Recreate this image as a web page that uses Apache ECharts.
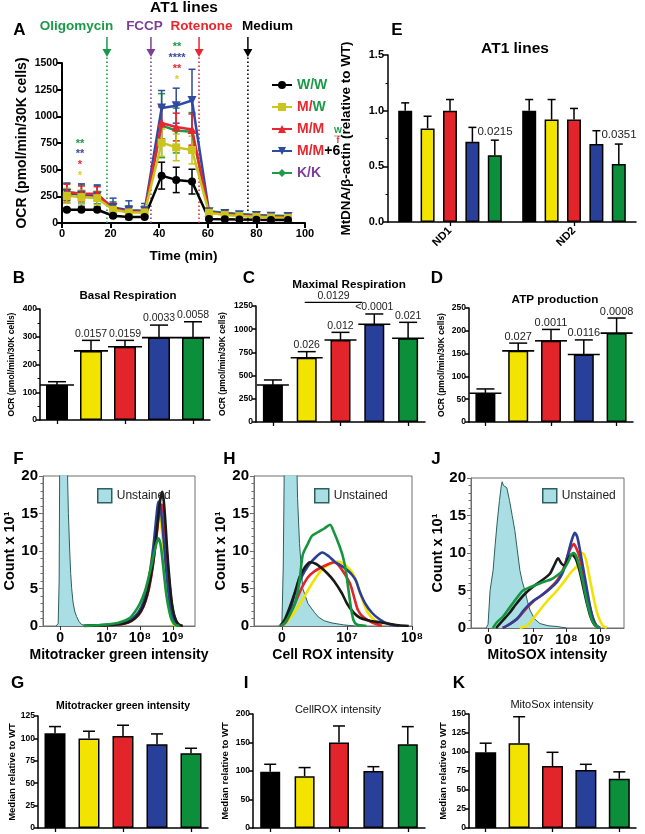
<!DOCTYPE html>
<html><head><meta charset="utf-8">
<script src="https://cdn.jsdelivr.net/npm/echarts@6/dist/echarts.min.js"></script>
<style>html,body{margin:0;padding:0;background:#fff}#c{width:645px;height:834px}</style>
</head><body><div id="c"></div>
<script>
// ---------------- DATA ----------------
const genotypes = ['W/W','M/W','M/M','M/M+6','K/K'];
// Panel A: Seahorse OCR time course
const timeMin = [2, 8, 14.5, 21, 27.5, 34, 41, 47, 53.5, 60.5, 67, 73, 80, 86, 93];
const ocrWW   = [124,124,124,68,56,56,444,404,388,37,35,33,30,28,28];
const ocrWWErr= [15,15,15,10,9,9,126,119,116,8,7,7,6,6,6];
const ocrMW   = [255,243,233,124,99,99,753,709,684,95,75,65,58,52,48];
const ocrMWErr= [70,65,65,55,45,45,128,125,130,18,15,14,13,12,12];
const ocrMM   = [288,277,275,132,108,104,938,900,876,100,82,72,64,58,54];
const ocrMMErr= [75,70,65,55,45,45,150,130,146,20,16,14,13,12,12];
const ocrMM6  = [280,262,255,145,120,115,1078,1100,1149,105,88,78,70,64,60];
const ocrMM6Err=[93,105,102,88,88,68,164,164,292,20,16,14,13,12,12];
const ocrKK   = [290,272,265,138,112,108,913,867,855,110,95,85,76,70,66];
const ocrKKErr= [83,85,85,60,50,50,300,210,180,20,16,14,13,12,12];
const injTime = [18.5, 36.6, 56.4, 76.5];
const injLabels = ['Oligomycin','FCCP','Rotenone','Medium'];
// Panel E: MtDNA
const ndGenes = ['ND1','ND2'];
const mtWW = [1.0, 1.0],   mtWWErr = [0.07, 0.10];
const mtMW = [0.84, 0.92], mtMWErr = [0.11, 0.18];
const mtMM = [1.0, 0.92],  mtMMErr = [0.10, 0.10];
const mtMM6 = [0.72, 0.70], mtMM6Err = [0.13, 0.12];
const mtKK = [0.60, 0.52], mtKKErr = [0.135, 0.18];
const mtMM6P = ['0.0215','0.0351'];
// Panels B, C, D
const basal = [126,249,264,297,297], basalErr = [12,38,23,45,57];
const basalP = ['','0.0157','0.0159','0.0033','0.0058'];
const maxResp = [399,693,884,1053,902], maxRespErr = [54,65,82,111,172];
const maxRespP = ['','0.026','0.012','<0.0001','0.021'];
const maxRespBracket = [1, 3, 1290]; const maxRespBracketP = '0.0129';
const atpProd = [63,156,178,148,195], atpProdErr = [9.5,17,25,32,33];
const atpProdP = ['','0.027','0.0011','0.0116','0.0008'];
// Panels G, I, K
const mitoGreen = [105.7,100,102.7,93.4,83.4], mitoGreenErr = [7.5,8,12,11.6,5.6];
const cellRox = [98.8,91,150,100,146.8], cellRoxErr = [13,15,29,7.6,31];
const mitoSox = [99.6,111.4,81.6,76.3,64.9], mitoSoxErr = [12,35,18,7.5,9];
// Histograms (x in biexponential display units; 10^7 = 7, 10^8 = 8, 10^9 = 9)
const fTicks = [5.58,7,8,9], hTicks = [6,7,8], jTicks = [5.66,7,8,9];
const fTickText = ['0','10⁷','10⁸','10⁹'], hTickText = ['0','10⁷','10⁸'], jTickText = ['0','10⁷','10⁸','10⁹'];
const fUnst = [[5.45,0],[5.52,0.3],[5.55,6],[5.57,25],[5.78,25],[5.83,15],[5.87,10],[5.9,7],[5.93,5],[5.97,3.2],[6.02,2],[6.08,1.25],[6.15,0.6],[6.23,0.2],[6.4,0]];
const fWW = [[6.3,0],[7.0,0.1],[7.5,0.3],[7.75,0.7],[7.95,1.5],[8.1,2.6],[8.22,4.2],[8.32,6.3],[8.4,8.5],[8.47,11],[8.53,13.5],[8.59,16],[8.64,17.4],[8.68,17.9],[8.72,16.8],[8.77,14],[8.82,10.5],[8.87,7.5],[8.92,5],[8.97,3],[9.03,1.6],[9.1,0.7],[9.18,0.2],[9.3,0]];
const fMW = [[6.3,0],[7.0,0.15],[7.5,0.4],[7.75,0.9],[7.95,1.8],[8.1,3.2],[8.22,5.2],[8.32,7.8],[8.4,10.2],[8.47,12.6],[8.53,14.5],[8.58,15.1],[8.63,14.2],[8.68,12],[8.73,9],[8.79,6],[8.85,3.5],[8.92,1.6],[8.98,0.6],[9.05,0.1],[9.15,0]];
const fMM = [[6.3,0],[7.0,0.1],[7.5,0.3],[7.75,0.7],[7.95,1.4],[8.1,2.5],[8.22,4],[8.32,6],[8.4,8.3],[8.48,11],[8.55,13.8],[8.61,15.8],[8.66,16.2],[8.71,15.2],[8.76,12.8],[8.82,9.5],[8.88,6.3],[8.94,3.8],[9.0,2],[9.07,0.9],[9.15,0.3],[9.25,0]];
const fMM6 = [[6.3,0],[7.0,0.15],[7.5,0.4],[7.75,0.9],[7.95,1.8],[8.1,3.1],[8.22,5],[8.32,7.6],[8.4,10.3],[8.46,12.8],[8.51,15],[8.56,16.6],[8.61,16.2],[8.66,14.5],[8.72,11.5],[8.78,8.3],[8.84,5.5],[8.9,3.2],[8.97,1.6],[9.04,0.7],[9.12,0.2],[9.2,0]];
const fKK = [[6.3,0],[7.0,0.2],[7.4,0.5],[7.7,1.1],[7.85,1.9],[8.0,3],[8.15,4.6],[8.27,6.6],[8.36,8.3],[8.43,9.8],[8.5,11],[8.56,11.7],[8.62,11],[8.68,9],[8.74,6.5],[8.8,4.2],[8.87,2.4],[8.94,1.1],[9.02,0.4],[9.1,0.1],[9.2,0]];
const hUnst = [[5.95,0],[6.0,0.5],[6.02,8],[6.04,25],[6.22,25],[6.24,17],[6.27,11],[6.32,5],[6.4,3],[6.5,1.8],[6.56,1.2],[6.65,0.7],[6.77,0.4],[6.95,0.15],[7.12,0]];
const hWW = [[5.98,0],[6.05,1],[6.12,2.5],[6.2,4.5],[6.27,6.5],[6.35,7.8],[6.43,8.5],[6.52,8.3],[6.6,7.8],[6.7,7],[6.8,6],[6.92,4.4],[7.0,3],[7.1,1.8],[7.2,1.1],[7.35,0.7],[7.5,0.5],[7.65,0.3],[7.8,0.1],[7.95,0]];
const hMW = [[6.0,0],[6.1,0.8],[6.18,1.7],[6.25,2.6],[6.35,4],[6.45,5.5],[6.55,6.8],[6.65,7.8],[6.75,8.3],[6.85,8.6],[6.95,8.3],[7.05,7.5],[7.12,6.5],[7.18,5],[7.25,3.2],[7.32,1.8],[7.42,0.8],[7.54,0]];
const hMM = [[6.0,0],[6.06,0.5],[6.12,1.5],[6.2,3],[6.3,5],[6.4,6.5],[6.5,7.3],[6.6,7.8],[6.7,8.2],[6.8,8.5],[6.88,8],[6.96,7],[7.05,5.6],[7.12,3.5],[7.17,2.1],[7.25,1.2],[7.38,0.5],[7.54,0]];
const hMM6 = [[5.98,0],[6.04,0.5],[6.08,1.2],[6.14,2.5],[6.2,4.4],[6.3,6.5],[6.4,8],[6.5,9],[6.62,9.8],[6.72,9.3],[6.82,8.5],[6.92,8],[7.0,7.5],[7.08,6.8],[7.14,6],[7.2,4.5],[7.28,3],[7.38,1.8],[7.5,0.9],[7.63,0.3],[7.8,0]];
const hKK = [[5.98,0],[6.05,0.5],[6.12,1.5],[6.2,3],[6.27,6],[6.32,9.5],[6.4,11],[6.46,12],[6.55,12.5],[6.65,13],[6.74,13.5],[6.8,12.5],[6.87,11],[6.93,9.5],[6.98,7.5],[7.02,5],[7.06,2.5],[7.1,0.8],[7.15,0.2],[7.3,0]];
const jUnst = [[5.6,0],[5.66,0.5],[5.72,5],[5.81,7.7],[5.87,11],[5.93,14],[6.0,17],[6.05,18.8],[6.08,19.5],[6.12,19],[6.17,19.2],[6.22,18.7],[6.3,17],[6.38,15],[6.46,13],[6.53,10.5],[6.61,7.7],[6.68,6.2],[6.76,5],[6.84,3.5],[6.91,2.4],[7.05,1.2],[7.21,0.6],[7.45,0.3],[7.72,0.2],[8.0,0]];
const jWW = [[5.9,0],[6.1,1],[6.3,2],[6.5,3.2],[6.75,4.5],[7.0,5.5],[7.25,6.3],[7.5,7.2],[7.65,8.5],[7.75,9.3],[7.85,8.6],[7.95,8.3],[8.05,9.2],[8.15,9.8],[8.22,9.6],[8.3,9],[8.4,7.5],[8.5,5.5],[8.6,3.5],[8.7,1.8],[8.8,0.7],[8.9,0.2],[9.0,0]];
const jMW = [[6.6,0],[6.82,0.3],[7.0,1.2],[7.21,2.4],[7.45,3.7],[7.72,5],[7.95,6.3],[8.15,7.5],[8.31,8.2],[8.4,9.2],[8.46,10],[8.53,9.8],[8.61,8.6],[8.7,6.5],[8.8,4.3],[8.9,2.3],[9.0,1],[9.09,0.3],[9.2,0]];
const jMM = [[6.1,0],[6.3,0.5],[6.55,1.3],[6.8,2.6],[7.05,3.7],[7.3,4.5],[7.55,5.5],[7.75,6.5],[7.92,8],[8.05,9.8],[8.15,10.8],[8.22,11.2],[8.3,10.6],[8.4,9.3],[8.5,7.3],[8.6,5],[8.7,2.8],[8.8,1.2],[8.9,0.3],[9.0,0]];
const jMM6 = [[6.1,0],[6.3,0.5],[6.52,1.2],[6.75,2.5],[7.0,3.6],[7.21,4.2],[7.5,5.2],[7.75,6.3],[7.9,7.5],[8.0,9],[8.1,10.8],[8.18,12],[8.25,12.7],[8.32,12.2],[8.4,10.5],[8.5,8],[8.6,5.5],[8.7,3],[8.8,1.2],[8.88,0.4],[9.0,0]];
const jKK = [[5.8,0],[5.93,0.8],[6.1,1.5],[6.25,2.4],[6.4,3.3],[6.55,4.2],[6.7,5],[6.9,5.4],[7.12,5.8],[7.35,6.2],[7.55,6.5],[7.72,7],[7.9,7.7],[8.05,8.8],[8.15,9.8],[8.22,10],[8.3,9.5],[8.4,8],[8.5,6],[8.6,3.8],[8.7,2],[8.78,0.9],[8.88,0.3],[9.0,0]];

// ---------------- STYLE ----------------
const FONT = '"Liberation Sans", Arial, Helvetica, sans-serif';
const barColors = ['#000000','#f3e400','#e2242b','#29409a','#0c8f3b'];
const lineColors = ['#000000','#c9c41e','#e8262f','#2f4aa0','#1f9a4a'];
const histColors = ['#1a1a1a','#f2e200','#e3242b','#2a3f95','#13963d'];
const injColors = ['#1a9a48','#7b3f98','#e8262f','#000000'];
const plainNum = v => String(v);

function vAxis(gi, min, max, interval, o) {
  o = o || {};
  const ax = {type:'value', gridIndex:gi, min:min, max:max, interval:interval,
    axisLine:{show:true, lineStyle:{color:o.lc||'#000', width:o.lw||1.5}},
    axisTick:{show:true, length:o.tl||4, lineStyle:{color:o.lc||'#000', width:o.lw||1.5}},
    minorTick: o.minor ? {show:true, splitNumber:o.minor, length:2.5, lineStyle:{color:o.lc||'#000', width:1}} : {show:false},
    splitLine:{show:false},
    axisLabel:{fontSize:o.fs||8.5, fontWeight:'bold', color:'#000', margin:o.margin||3, fontFamily:FONT, formatter:o.fmt||plainNum},
    name:o.name||'', nameLocation:'middle', nameGap:o.gap||25,
    nameTextStyle:{fontSize:o.nfs||9, fontWeight:'bold', color:'#000', fontFamily:FONT}
  };
  return ax;
}
function cAxis(gi, cats, o) {
  o = o || {};
  return {type:'category', gridIndex:gi, data:cats,
    axisLine:{show:true, lineStyle:{color:'#000', width:1.5}},
    axisTick:{show:true, alignWithLabel:true, length:4, lineStyle:{color:'#000', width:1.3}},
    axisLabel: o.label ? o.label : {show:false},
    splitLine:{show:false}};
}
function histX(gi, min, max, ticks, texts, name, gap) {
  return {type:'value', gridIndex:gi, min:min, max:max,
    axisLine:{show:true, lineStyle:{color:'#6e6e6e', width:1}},
    axisTick:{show:true, length:4, customValues:ticks, lineStyle:{color:'#333', width:1}},
    splitLine:{show:false},
    axisLabel:{customValues:ticks, fontSize:14, fontWeight:'bold', color:'#000', margin:5, fontFamily:FONT,
      formatter:function(v){ for (let k=0;k<ticks.length;k++){ if (Math.abs(ticks[k]-v)<1e-6) return texts[k]; } return ''; }},
    name:name, nameLocation:'middle', nameGap:gap,
    nameTextStyle:{fontSize:14, fontWeight:'bold', color:'#000', fontFamily:FONT}};
}
function barSeries(gi, name, vals, w) {
  return {type:'bar', name:name, xAxisIndex:gi, yAxisIndex:gi, barWidth:w, z:2, silent:true,
    itemStyle:{borderColor:'#000', borderWidth:1.5},
    data: vals.map((v,i)=>({value:v, itemStyle:{color:barColors[i]}}))};
}
function errSeries(o) {
  return {type:'custom', xAxisIndex:o.gi, yAxisIndex:o.gi, z:o.z||5, silent:true,
    data: o.means.map((m,i)=>[o.xs ? o.xs[i] : i, m, o.errs[i]]),
    renderItem: function(params, api) {
      const i = params.dataIndex;
      const xv = api.value(0), m = api.value(1), e = api.value(2);
      const col = Array.isArray(o.colors) ? o.colors[i] : o.colors;
      const p = api.coord([xv, m]), t = api.coord([xv, m + e]);
      const cx = p[0] + (o.offset || 0);
      const st = {stroke:col, lineWidth:o.lw || 1.5};
      const ch = [
        {type:'line', shape:{x1:cx, y1:p[1], x2:cx, y2:t[1]}, style:st},
        {type:'line', shape:{x1:cx - o.capW/2, y1:t[1], x2:cx + o.capW/2, y2:t[1]}, style:st}
      ];
      if (o.both) {
        const b = api.coord([xv, m - e]);
        ch.push({type:'line', shape:{x1:cx, y1:p[1], x2:cx, y2:b[1]}, style:st});
        ch.push({type:'line', shape:{x1:cx - o.capW/2, y1:b[1], x2:cx + o.capW/2, y2:b[1]}, style:st});
      }
      if (o.meanW) ch.push({type:'line', shape:{x1:cx - o.meanW/2, y1:p[1], x2:cx + o.meanW/2, y2:p[1]}, style:{stroke:'#000', lineWidth:1.6}});
      const lab = o.labels && o.labels[i];
      if (lab) {
        if (o.labelMode === 'right') {
          ch.push({type:'text', style:{text:lab, x:cx + o.capW/2 + 1, y:t[1] + 4, align:'left', verticalAlign:'middle', textAlign:'left', textVerticalAlign:'middle', font:o.labelFont, fill:'#222'}});
        } else {
          ch.push({type:'text', style:{text:lab, x:cx, y:t[1] - 1, align:'center', verticalAlign:'bottom', textAlign:'center', textVerticalAlign:'bottom', font:o.labelFont, fill:'#222'}});
        }
      }
      return {type:'group', children:ch};
    }};
}
function histLine(gi, name, data, color) {
  return {type:'line', name:name, xAxisIndex:gi, yAxisIndex:gi, data:data, symbol:'none', smooth:0.25,
    silent:true, lineStyle:{color:color, width:2.6}, itemStyle:{color:color}, z:3};
}
function histUnst(gi, name, data) {
  return {type:'line', name:name, xAxisIndex:gi, yAxisIndex:gi, data:data, symbol:'none', silent:true,
    lineStyle:{color:'#2e5e5e', width:1}, itemStyle:{color:'#a9dfe4', borderColor:'#2e5e5e'},
    areaStyle:{color:'#a9dfe4', opacity:1}, z:2};
}

// ---------------- GRIDS / AXES ----------------
const grids = [
  {left:62, top:63, width:243, height:160},   // 0 A
  {left:388, top:55, width:248, height:167},  // 1 E
  {left:40, top:309, width:170, height:111},  // 2 B
  {left:256, top:306, width:169, height:116}, // 3 C
  {left:469, top:308, width:164, height:114}, // 4 D
  {left:43, top:476, width:152, height:150, show:true, borderColor:'#6e6e6e', borderWidth:1},  // 5 F
  {left:254, top:476, width:158, height:150, show:true, borderColor:'#6e6e6e', borderWidth:1}, // 6 H
  {left:471, top:478, width:153, height:150, show:true, borderColor:'#6e6e6e', borderWidth:1}, // 7 J
  {left:38, top:716, width:170, height:112},  // 8 G
  {left:253, top:714, width:172, height:114}, // 9 I
  {left:469, top:714, width:167, height:114}  // 10 K
];
const xAxes = [
  {type:'value', gridIndex:0, min:0, max:100, interval:20,
    axisLine:{show:true, lineStyle:{color:'#000', width:2}}, axisTick:{show:true, length:5, lineStyle:{color:'#000', width:2}},
    splitLine:{show:false}, axisLabel:{fontSize:11, fontWeight:'bold', color:'#000', margin:5, fontFamily:FONT, formatter:plainNum},
    name:'Time (min)', nameLocation:'middle', nameGap:26, nameTextStyle:{fontSize:13.5, fontWeight:'bold', color:'#000', fontFamily:FONT}},
  cAxis(1, ndGenes, {label:{show:true, rotate:45, fontSize:11, fontWeight:'bold', color:'#000', margin:7, fontFamily:FONT}}),
  cAxis(2, genotypes), cAxis(3, genotypes), cAxis(4, genotypes),
  histX(5, 5.06, 9.67, fTicks, fTickText, 'Mitotracker green intensity', 22),
  histX(6, 5.57, 8.0, hTicks, hTickText, 'Cell ROX intensity', 22),
  histX(7, 5.15, 9.72, jTicks, jTickText, 'MitoSOX intensity', 20),
  cAxis(8, genotypes), cAxis(9, genotypes), cAxis(10, genotypes)
];
const yAxes = [
  vAxis(0, 0, 1500, 250, {lw:2, tl:5, fs:10.5, margin:4, name:'OCR (pmol/min/30K cells)', nfs:14, gap:33}),
  vAxis(1, 0, 1.5, 0.5, {lw:1.5, tl:5, fs:11, margin:4, minor:2, name:'MtDNA/β-actin (relative to WT)', nfs:13.5, gap:35, fmt:v=>v.toFixed(1)}),
  vAxis(2, 0, 400, 100, {minor:2, name:'OCR (pmol/min/30K cells)', nfs:8.5, gap:24}),
  vAxis(3, 0, 1250, 250, {name:'OCR (pmol/min/30K cells)', nfs:8.5, gap:29}),
  vAxis(4, 0, 250, 50, {name:'OCR (pmol/min/30K cells)', nfs:8.5, gap:23}),
  vAxis(5, 0, 20, 5, {lc:'#6e6e6e', lw:1, fs:15, margin:5, minor:5, name:'Count x 10¹', nfs:14.5, gap:21}),
  vAxis(6, 0, 20, 5, {lc:'#6e6e6e', lw:1, fs:15, margin:5, minor:5, name:'Count x 10¹', nfs:14.5, gap:20}),
  vAxis(7, 0, 20, 5, {lc:'#6e6e6e', lw:1, fs:15, margin:5, minor:5, name:'Count x 10¹', nfs:14.5, gap:26}),
  vAxis(8, 0, 125, 25, {name:'Median relative to WT', nfs:9.5, gap:20}),
  vAxis(9, 0, 200, 50, {name:'Median relative to WT', nfs:9.5, gap:23}),
  vAxis(10, 0, 150, 25, {name:'Median relative to WT', nfs:9.5, gap:21})
];

// ---------------- SERIES ----------------
const series = [];
// A: injection markers
series.push({type:'custom', xAxisIndex:0, yAxisIndex:0, z:1, silent:true,
  data: injTime.map(t=>[t, 0]),
  renderItem: function(params, api) {
    const col = injColors[params.dataIndex];
    const b = api.coord([api.value(0), 0]);
    const top = api.coord([api.value(0), 1500]);
    const x = b[0], yEnd = top[1] - 6;
    return {type:'group', children:[
      {type:'line', shape:{x1:x, y1:b[1], x2:x, y2:yEnd}, style:{stroke:col, lineWidth:1.6, lineDash:[1.5,2.5]}},
      {type:'line', shape:{x1:x, y1:yEnd - 20, x2:x, y2:yEnd - 7}, style:{stroke:col, lineWidth:1.5}},
      {type:'polygon', shape:{points:[[x-4.5, yEnd-8],[x+4.5, yEnd-8],[x, yEnd]]}, style:{fill:col}}
    ]};
  }});
const aMeans = [ocrWW, ocrMW, ocrMM, ocrMM6, ocrKK];
const aErrs = [ocrWWErr, ocrMWErr, ocrMMErr, ocrMM6Err, ocrKKErr];
const aSymbols = ['circle','rect','triangle','triangle','diamond'];
const aSizes = [8, 8, 9, 9, 7];
const aRot = [0, 0, 0, 180, 0];
[4,3,2,1,0].forEach(k => {
  series.push(errSeries({gi:0, xs:timeMin, means:aMeans[k], errs:aErrs[k], colors:lineColors[k], capW:7, both:true, lw:1.5, z:3}));
});
[4,3,2,1,0].forEach(k => {
  series.push({type:'line', name:genotypes[k], xAxisIndex:0, yAxisIndex:0,
    data: timeMin.map((t,i)=>[t, aMeans[k][i]]), symbol:aSymbols[k], symbolSize:aSizes[k], symbolRotate:aRot[k],
    itemStyle:{color:lineColors[k]}, lineStyle:{color:lineColors[k], width:2.5}, z:4, silent:true});
});
// E
const eMeans = [mtWW, mtMW, mtMM, mtMM6, mtKK];
const eErrs = [mtWWErr, mtMWErr, mtMMErr, mtMM6Err, mtKKErr];
const eBarW = 14, eGap = 8.4;
eMeans.forEach((vals, k) => {
  series.push({type:'bar', name:'E ' + genotypes[k], xAxisIndex:1, yAxisIndex:1, barWidth:eBarW, barGap:'60%', z:2, silent:true,
    itemStyle:{color:barColors[k], borderColor:'#000', borderWidth:1.5}, data:vals});
});
eMeans.forEach((vals, k) => {
  series.push(errSeries({gi:1, means:vals, errs:eErrs[k], colors:'#000', capW:8, offset:(k-2)*(eBarW+eGap), lw:1.5,
    labels: k===3 ? mtMM6P : null, labelMode:'right', labelFont:'11.5px ' + FONT}));
});
// B, C, D
series.push(barSeries(2, 'Basal Respiration', basal, 22));
series.push(errSeries({gi:2, means:basal, errs:basalErr, colors:'#000', capW:18, meanW:34, labels:basalP, labelFont:'10.5px ' + FONT}));
series.push(barSeries(3, 'Maximal Respiration', maxResp, 20));
series.push(errSeries({gi:3, means:maxResp, errs:maxRespErr, colors:'#000', capW:18, meanW:32, labels:maxRespP, labelFont:'10.5px ' + FONT}));
series.push({type:'custom', xAxisIndex:3, yAxisIndex:3, z:5, silent:true, data:[maxRespBracket],
  renderItem: function(params, api) {
    const a = api.coord([api.value(0), api.value(2)]), b = api.coord([api.value(1), api.value(2)]);
    const x1 = a[0] - 2, x2 = b[0] - 12;
    return {type:'group', children:[
      {type:'line', shape:{x1:x1, y1:a[1], x2:x2, y2:a[1]}, style:{stroke:'#000', lineWidth:1.3}},
      {type:'text', style:{text:maxRespBracketP, x:(x1+x2)/2, y:a[1]-1, align:'center', verticalAlign:'bottom', textAlign:'center', textVerticalAlign:'bottom', font:'10.5px ' + FONT, fill:'#222'}}
    ]};
  }});
series.push(barSeries(4, 'ATP production', atpProd, 20));
series.push(errSeries({gi:4, means:atpProd, errs:atpProdErr, colors:'#000', capW:18, meanW:32, labels:atpProdP, labelFont:'11px ' + FONT}));
// F, H, J
const hists = [
  {gi:5, tag:'F', unst:fUnst, lines:[fWW,fMW,fMM,fMM6,fKK]},
  {gi:6, tag:'H', unst:hUnst, lines:[hWW,hMW,hMM,hMM6,hKK]},
  {gi:7, tag:'J', unst:jUnst, lines:[jWW,jMW,jMM,jMM6,jKK]}
];
hists.forEach(h => {
  series.push(histUnst(h.gi, 'Unstained ' + h.tag, h.unst));
  [1,2,3,0,4].forEach(k => series.push(histLine(h.gi, h.tag + ' ' + genotypes[k], h.lines[k], histColors[k])));
});
// G, I, K
series.push(barSeries(8, 'Mitotracker green', mitoGreen, 21));
series.push(errSeries({gi:8, means:mitoGreen, errs:mitoGreenErr, colors:'#000', capW:12}));
series.push(barSeries(9, 'CellROX', cellRox, 20));
series.push(errSeries({gi:9, means:cellRox, errs:cellRoxErr, colors:'#000', capW:12}));
series.push(barSeries(10, 'MitoSox', mitoSox, 21));
series.push(errSeries({gi:10, means:mitoSox, errs:mitoSoxErr, colors:'#000', capW:12}));

// ---------------- LEGENDS ----------------
const richBase = {fontSize:14, fontWeight:'bold', fontFamily:FONT};
const legendRich = {'W/W':'{g|W/W}', 'M/W':'{r|M/}{g|W}', 'M/M':'{r|M/M}', 'M/M+6':'{r|M/M}{k|+6}', 'K/K':'{p|K/K}'};
const unstLegend = (tag, left, top) => ({left:left, top:top, orient:'horizontal', itemWidth:14, itemHeight:14, itemGap:4, selectedMode:false,
  data:[{name:'Unstained ' + tag, icon:'rect', itemStyle:{color:'#a9dfe4', borderColor:'#2e5e5e', borderWidth:1.5}}],
  formatter:()=>'Unstained', textStyle:{fontSize:12, color:'#222', fontFamily:FONT}});
const legends = [
  {left:266, top:73, orient:'vertical', itemGap:8, itemWidth:20, itemHeight:10, selectedMode:false, data:genotypes,
    formatter:name=>legendRich[name],
    textStyle:{fontSize:14, fontWeight:'bold', fontFamily:FONT, rich:{
      g:Object.assign({color:'#1a9a48'}, richBase), r:Object.assign({color:'#e8262f'}, richBase),
      k:Object.assign({color:'#000'}, richBase), p:Object.assign({color:'#7b3f98'}, richBase)}}},
  unstLegend('F', 92, 483), unstLegend('H', 309, 483), unstLegend('J', 537, 483)
];

// ---------------- TEXT (titles, letters, annotations) ----------------
function txt(x, y, s, font, fill, align) {
  return {type:'text', x:x, y:y, silent:true, style:{text:s, font:font, fill:fill||'#000', align:align||'center', verticalAlign:'middle', textAlign:align||'center', textVerticalAlign:'middle'}};
}
const L = 'bold 17px ' + FONT;
const graphic = [
  txt(19.5, 30, 'A', L), txt(397, 30, 'E', L), txt(19, 278, 'B', L), txt(249, 278, 'C', L), txt(437, 278, 'D', L),
  txt(18.5, 459, 'F', L), txt(229.5, 459, 'H', L), txt(436, 459, 'J', L),
  txt(17.5, 683, 'G', L), txt(246, 683, 'I', L), txt(459, 683, 'K', L),
  txt(184, 8, 'AT1 lines', 'bold 15.5px ' + FONT),
  txt(76.5, 26.5, injLabels[0], 'bold 13.5px ' + FONT, injColors[0]),
  txt(144.5, 26.5, injLabels[1], 'bold 13.5px ' + FONT, injColors[1]),
  txt(201.5, 26.5, injLabels[2], 'bold 13.5px ' + FONT, injColors[2]),
  txt(267.5, 26.5, injLabels[3], 'bold 13.5px ' + FONT, injColors[3]),
  // significance stars
  txt(80, 144, '**', 'bold 11px ' + FONT, '#1a9a48'), txt(80, 154, '**', 'bold 11px ' + FONT, '#3c4ba0'),
  txt(80, 165, '*', 'bold 11px ' + FONT, '#e8262f'), txt(80, 176, '*', 'bold 11px ' + FONT, '#d8cf2a'),
  txt(177, 47, '**', 'bold 11px ' + FONT, '#1a9a48'), txt(177, 58, '****', 'bold 11px ' + FONT, '#3c4ba0'),
  txt(177, 69, '**', 'bold 11px ' + FONT, '#e8262f'), txt(177, 80, '*', 'bold 11px ' + FONT, '#d8cf2a'),
  // superscript fraction next to M/M+6
  txt(338, 131, 'W', 'bold 8.5px ' + FONT, '#1a9a48'),
  {type:'line', silent:true, shape:{x1:334, y1:136, x2:342, y2:136}, style:{stroke:'#888', lineWidth:0.8}},
  txt(338, 141, 'f', 'bold 8.5px ' + FONT, '#e8262f'),
  // panel titles
  txt(515, 49, 'AT1 lines', 'bold 15.5px ' + FONT),
  txt(128, 296, 'Basal Respiration', 'bold 11.5px ' + FONT),
  txt(349, 285, 'Maximal Respiration', 'bold 11.7px ' + FONT),
  txt(555, 300, 'ATP production', 'bold 11.7px ' + FONT),
  txt(123, 706, 'Mitotracker green intensity', 'bold 10.5px ' + FONT),
  txt(338, 710, 'CellROX intensity', '11px ' + FONT, '#111'),
  txt(552, 705, 'MitoSox intensity', '11px ' + FONT, '#111')
];

const chart = echarts.init(document.getElementById('c'), null, {renderer:'canvas'});
chart.setOption({
  animation:false, backgroundColor:'#ffffff', textStyle:{fontFamily:FONT},
  grid:grids, xAxis:xAxes, yAxis:yAxes, series:series, legend:legends, graphic:graphic
});
</script></body></html>
